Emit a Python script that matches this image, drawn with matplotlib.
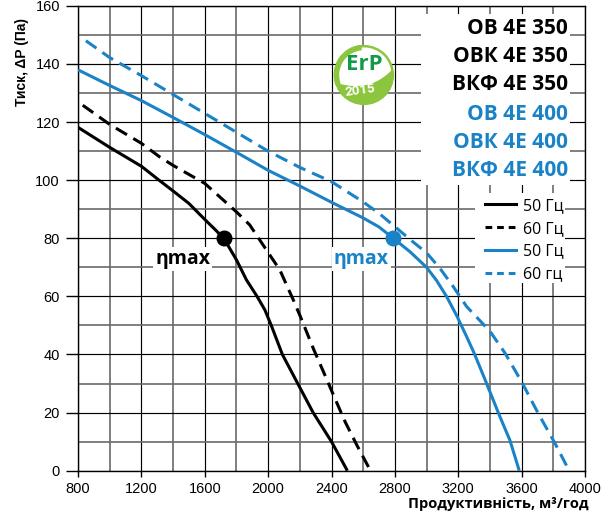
import matplotlib
matplotlib.use("Agg")
import matplotlib.pyplot as plt
import numpy as np
from matplotlib.patches import Rectangle, Circle, Polygon, Arc
from matplotlib.lines import Line2D

# ---------------- data ----------------
flow_350_50 = [800, 1000, 1200, 1300, 1400, 1500, 1600, 1660, 1720, 1800, 1863, 1930, 1979, 2020,
               2090, 2187, 2284, 2400, 2500]
p_350_50 = [118.2, 111.3, 104.8, 100.5, 96.3, 92, 86.5, 83.3, 80, 72.6, 65.7, 60, 55.4, 50,
            40, 30, 20, 10, 0]

flow_350_60 = [830, 1000, 1200, 1316, 1400, 1600, 1800, 1884, 1989, 2074, 2158, 2204, 2288, 2352,
               2415, 2488, 2562, 2646]
p_350_60 = [125.8, 119.2, 112.7, 108, 105.1, 98.9, 89.1, 84.6, 76, 69.1, 58.9, 53, 41.7, 33.7,
            25.7, 16.6, 8.6, 0]

flow_400_50 = [800, 1000, 1200, 1400, 1600, 1800, 2000, 2200, 2400, 2600, 2700, 2790, 2895, 3000,
               3063, 3126, 3189, 3250, 3300, 3368, 3463, 3526, 3585]
p_400_50 = [138, 132.6, 127.4, 121.6, 115.7, 109.6, 103.4, 98, 92.4, 87.0, 83.9, 80, 75.4, 70,
            65.5, 60, 53.5, 46.5, 40.5, 31.5, 18.6, 10.5, 0]

flow_400_60 = [850, 1000, 1200, 1400, 1600, 1800, 2000, 2200, 2400, 2600, 2700, 2800, 2900, 3000,
               3084, 3168, 3253, 3400, 3495, 3600, 3705, 3811, 3900]
p_400_60 = [148, 142.2, 136, 129.5, 123, 116.5, 110, 104.4, 99.5, 92.5, 88.6, 84, 79.4, 75,
            69.7, 63.4, 56.5, 48, 40.5, 30.6, 19.7, 9.4, 0]

eta_flow = [1720, 2790]
eta_p = [80, 80]
eta_label = "ηmax"

models_350 = ["ОВ 4Е 350", "ОВК 4Е 350", "ВКФ 4Е 350"]
models_400 = ["ОВ 4Е 400", "ОВК 4Е 400", "ВКФ 4Е 400"]
legend_labels = ["50 Гц", "60 Гц", "50 Гц", "60 гц"]

x_ticks = [800, 1200, 1600, 2000, 2400, 2800, 3200, 3600, 4000]
y_ticks = [0, 20, 40, 60, 80, 100, 120, 140, 160]
x_minor = [1000, 1400, 1800, 2200, 2600, 3000, 3400, 3800]
y_minor = [10, 30, 50, 70, 90, 110, 130, 150]

x_label = "Продуктивність, м³/год"
y_label = "Тиск, ΔP (Па)"

# ---------------- style ----------------
BLACK = "#000000"
BLUE = "#1a82c6"
GREEN_L = "#8cc63f"
GREEN_D = "#119a48"
W, H = 602, 511

fig = plt.figure(figsize=(W / 100, H / 100), dpi=100)
ax = fig.add_axes([78 / W, 1 - 470.7 / H, 507 / W, 464.8 / H])
ax.set_xlim(800, 4000)
ax.set_ylim(0, 160)
ax.set_xticks(x_ticks)
ax.set_yticks(y_ticks)
ax.set_xticks(x_minor, minor=True)
ax.set_yticks(y_minor, minor=True)
ax.set_axisbelow(True)
ax.grid(which="major", color="black", lw=0.85)
ax.grid(which="minor", color="#6a6a6a", lw=1.2)
for s in ax.spines.values():
    s.set_linewidth(1.0)
    s.set_color("black")
ax.tick_params(axis="y", which="major", length=9, width=1, pad=4, labelsize=10.5)
ax.tick_params(axis="x", which="major", length=4, width=1, pad=4, labelsize=10.5)
ax.tick_params(which="minor", length=0)
for lab in ax.get_xticklabels() + ax.get_yticklabels():
    lab.set_family("Liberation Sans")

# white blanking areas behind labels and legend
ax.add_patch(Rectangle((2965, 98.3), 3906 - 2965, 157.2 - 98.3, facecolor="white",
                       edgecolor="none", zorder=1))
ax.add_patch(Rectangle((3306, 64.6), 3874 - 3306, 95.6 - 64.6, facecolor="white",
                       edgecolor="none", zorder=1))

LW = 2.2
DASH = (0, (4.2, 2.4))
ax.plot(flow_350_50, p_350_50, color=BLACK, lw=LW, solid_capstyle="butt",
        solid_joinstyle="round", zorder=3)
ax.plot(flow_350_60, p_350_60, color=BLACK, lw=LW, ls=DASH, zorder=3)
ax.plot(flow_400_50, p_400_50, color=BLUE, lw=LW, solid_capstyle="butt",
        solid_joinstyle="round", zorder=3)
ax.plot(flow_400_60, p_400_60, color=BLUE, lw=LW, ls=DASH, zorder=3)

eta_colors = [BLACK, BLUE]
eta_offsets = [(-29.5, -18.5), (-23, -18.5)]
for fx, fp, c, off in zip(eta_flow, eta_p, eta_colors, eta_offsets):
    ax.plot([fx], [fp], "o", color=c, markersize=10.5, zorder=4)
    ax.annotate(eta_label, (fx, fp), xytext=off, textcoords="offset points",
                ha="center", va="baseline", color=c, fontsize=14, fontweight="bold",
                family="Open Sans", zorder=5,
                bbox=dict(facecolor="white", edgecolor="none", pad=1.5))

# model labels
model_colors = [BLACK] * len(models_350) + [BLUE] * len(models_400)
baselines = [33.5, 61.5, 90.5, 119.5, 148.5, 176.5]
for txt, c, yb in zip(models_350 + models_400, model_colors, baselines):
    fig.text(568 / W, 1 - yb / H, txt, ha="right", va="baseline", color=c,
             fontsize=15, fontweight="bold", family="Open Sans", zorder=6)

# legend
handles = [Line2D([], [], color=BLACK, lw=LW),
           Line2D([], [], color=BLACK, lw=LW, ls=(0, (2.2, 1.6))),
           Line2D([], [], color=BLUE, lw=LW),
           Line2D([], [], color=BLUE, lw=LW, ls=(0, (2.2, 1.6)))]
leg = ax.legend(handles, legend_labels, loc="upper left",
                bbox_to_anchor=((485 - 77.8) / 507, (470.7 - 198) / 464.8),
                frameon=False, borderpad=0, borderaxespad=0, handlelength=1.9,
                handletextpad=0.45, labelspacing=0.42,
                prop={"family": "Open Sans", "size": 11.5})
leg.set_zorder(6)

# axis labels
fig.text(22 / W, 1 - 62 / H, y_label, rotation=90, ha="center", va="center",
         fontsize=10, fontweight="bold", family="Liberation Sans")
fig.text(408 / W, 0.5 / H, x_label, ha="left", va="bottom",
         fontsize=10.5, fontweight="bold", family="Open Sans")

# ErP logo
lax = fig.add_axes([333 / W, 1 - 106 / H, 62 / W, 62 / H])
lax.set_xlim(-1, 1)
lax.set_ylim(-1, 1)
lax.axis("off")
lax.add_patch(Circle((0, 0), 0.93, facecolor="white", edgecolor=GREEN_L, lw=1.8))
lax.add_patch(Arc((0, 0), 1.78, 1.78, theta1=95, theta2=200, color=GREEN_L, lw=4))
a0, a1 = np.deg2rad(195), np.deg2rad(372)
ang = np.linspace(a0, a1, 60)
arc = np.column_stack([0.95 * np.cos(ang), 0.95 * np.sin(ang)])
t = np.linspace(0, 1, 40)
p0 = arc[-1]
p2 = arc[0]
pc = np.array([0.2, -0.6])
curve = (1 - t)[:, None] ** 2 * p0 + 2 * ((1 - t) * t)[:, None] * pc + (t ** 2)[:, None] * p2
lax.add_patch(Polygon(np.vstack([arc, curve]), closed=True, facecolor=GREEN_L, edgecolor="none"))
lax.text(0, 0.33, "ErP", ha="center", va="center", color=GREEN_D, fontsize=16,
         fontweight="bold", family="Open Sans")
lax.text(-0.12, -0.5, "2015", ha="center", va="center", color="white", fontsize=9.5,
         fontweight="bold", family="Roboto", rotation=8)

fig.savefig("out.png", dpi=100)
